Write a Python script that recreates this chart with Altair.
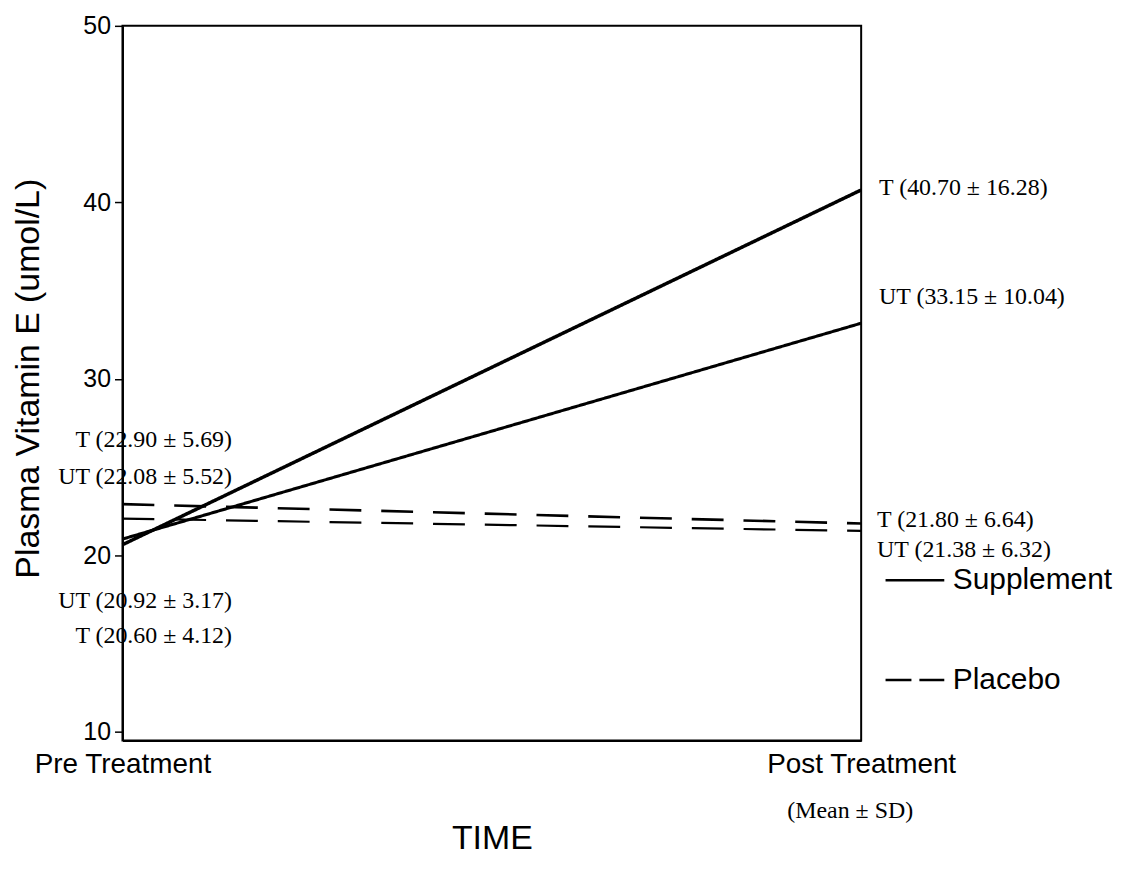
import altair as alt
import pandas as pd

# ---- data ----
stages = ["Pre Treatment", "Post Treatment"]
treatments = ["Supplement", "Supplement", "Placebo", "Placebo"]
groups = ["T", "UT", "T", "UT"]
pre_mean = [20.60, 20.92, 22.90, 22.08]
pre_sd = [4.12, 3.17, 5.69, 5.52]
post_mean = [40.70, 33.15, 21.80, 21.38]
post_sd = [16.28, 10.04, 6.64, 6.32]
y_ticks = [10, 20, 30, 40, 50]
legend_items = ["Supplement", "Placebo"]
note_text = "(Mean \u00b1 SD)"

rows = []
for i in range(len(treatments)):
    for s, (m, sd) in enumerate([(pre_mean[i], pre_sd[i]), (post_mean[i], post_sd[i])]):
        rows.append(dict(
            treatment=treatments[i], group=groups[i],
            series=f"{treatments[i]} {groups[i]}",
            stage=s, stage_name=stages[s], mean=m, sd=sd,
            label=f"{groups[i]} ({m:.2f} \u00b1 {sd:.2f})",
            key=f"{treatments[i]}|{groups[i]}|{s}",
        ))
df = pd.DataFrame(rows)
series_names = [f"{t} {g}" for t, g in zip(treatments, groups)]

SANS = "Liberation Sans"
SERIF = "Liberation Serif"

x_enc = alt.X(
    "stage:Q",
    scale=alt.Scale(domain=[0, 1], nice=False),
    axis=alt.Axis(
        values=[0, 1],
        labelExpr="datum.value == 0 ? 'Pre Treatment' : 'Post Treatment'",
        ticks=False, grid=False, domainWidth=2,
        labelFont=SANS, labelFontSize=28, labelPadding=10, labelLimit=400,
        labelFlush=False, labelOverlap=False,
        titleFont=SANS, titleFontSize=34, titleFontWeight="normal",
        titleY=98, titleBaseline="middle",
    ),
    title="TIME",
)
y_enc = alt.Y(
    "mean:Q",
    scale=alt.Scale(domain=[9.5, 50], nice=False, zero=False),
    axis=alt.Axis(
        values=y_ticks, grid=False, tickSize=8, tickWidth=1.5, domainWidth=2,
        labelFont=SANS, labelFontSize=25, labelPadding=4,
        titleFont=SANS, titleFontSize=34, titleFontWeight="normal",
        titleX=-94, titleY=354, titleAlign="center", titleBaseline="middle",
    ),
    title="Plasma Vitamin E (umol/L)",
)

base = alt.Chart(df)

lines = base.mark_line(color="black").encode(
    x=x_enc,
    y=y_enc,
    strokeDash=alt.StrokeDash(
        "treatment:N",
        scale=alt.Scale(domain=legend_items, range=[[1, 0], [32, 20]]),
        legend=None,
    ),
    strokeWidth=alt.StrokeWidth(
        "series:N",
        scale=alt.Scale(domain=series_names, range=[3.5, 2.2, 2.6, 2.3]),
        legend=None,
    ),
    detail="series:N",
)

# legend-only layer (draws no marks; its scale has a shorter dash for the key)
legend_layer = base.transform_filter("false").mark_line(
    color="black", strokeWidth=2.5
).encode(
    x="stage:Q",
    y="mean:Q",
    strokeDash=alt.StrokeDash(
        "treatment:N",
        scale=alt.Scale(domain=legend_items, range=[[1, 0], [26, 8]]),
        legend=alt.Legend(
            title=None, orient="none", legendX=765, legendY=526,
            symbolType="stroke", symbolSize=3481, symbolStrokeWidth=2.5,
            symbolStrokeColor="black",
            labelFont=SANS, labelFontSize=30, labelColor="black", labelLimit=400,
            labelOffset=7, rowPadding=54, padding=0,
        ),
    ),
)

# label offsets (styling): key -> (align, dx, dy)
label_offsets = {
    "Placebo|T|0": ("right", 110, -64),
    "Placebo|UT|0": ("right", 110, -42),
    "Supplement|UT|0": ("right", 110, 62),
    "Supplement|T|0": ("right", 110, 92),
    "Supplement|T|1": ("left", 18, -2),
    "Supplement|UT|1": ("left", 18, -26),
    "Placebo|T|1": ("left", 16, -4),
    "Placebo|UT|1": ("left", 16, 19),
}

layers = [lines, legend_layer]
for key, (align, dx, dy) in label_offsets.items():
    layers.append(
        base.transform_filter(alt.datum.key == key)
        .mark_text(align=align, baseline="middle", dx=dx, dy=dy,
                   font=SERIF, fontSize=24, color="black")
        .encode(x="stage:Q", y="mean:Q", text="label:N")
    )

note = alt.Chart(pd.DataFrame({"note": [note_text], "stage": [1]})).mark_text(
    align="center", baseline="middle", dx=-11, font=SERIF, fontSize=24, color="black"
).encode(x="stage:Q", y=alt.value(789), text="note:N")
layers.append(note)

chart = (
    alt.layer(*layers)
    .resolve_scale(strokeDash="independent")
    .properties(
        width=742, height=718,
        autosize=alt.AutoSizeParams(type="none"),
        padding={"left": 115, "top": 16, "right": 259, "bottom": 118},
        background="white",
    )
    .configure_view(stroke="black", strokeWidth=2)
    .configure_axis(labelColor="black", titleColor="black",
                    domainColor="black", tickColor="black")
)

chart.save("out.html", embed_options={"renderer": "svg", "actions": False})
